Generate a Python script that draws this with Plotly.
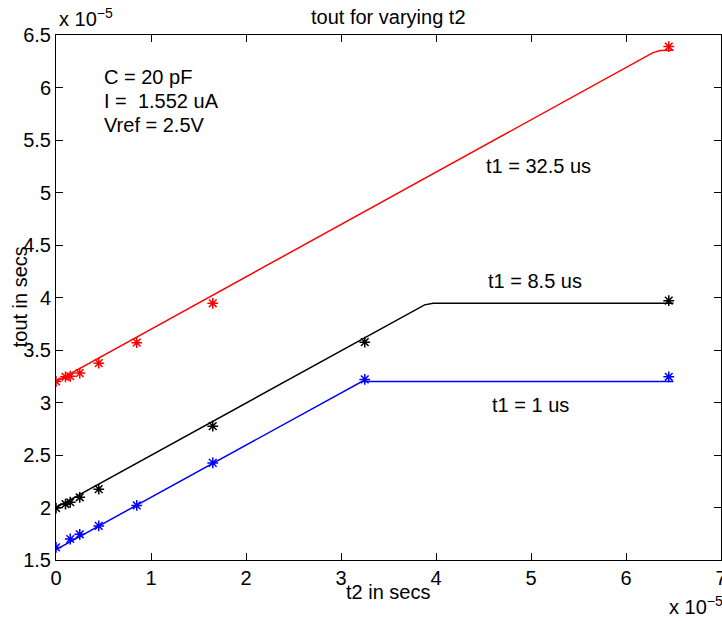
import plotly.graph_objects as go

# t2 sweep (units of 1e-5 s) and measured tout (units of 1e-5 s)
red_t2 = [0, 0.1, 0.15, 0.25, 0.45, 0.85, 1.65, 6.45]
red_tout = [3.20, 3.245, 3.25, 3.28, 3.375, 3.57, 3.945, 6.39]
black_t2 = [0, 0.1, 0.15, 0.25, 0.45, 1.65, 3.25, 6.45]
black_tout = [1.995, 2.033, 2.05, 2.097, 2.175, 2.775, 3.575, 3.97]
blue_t2 = [0, 0.15, 0.25, 0.45, 0.85, 1.65, 3.25, 6.45]
blue_tout = [1.62, 1.70, 1.745, 1.825, 2.02, 2.425, 3.22, 3.245]

# model curves: linear ramp, then saturation
red_model_t2 = [0, 6.28, 6.36, 6.5]
red_model_tout = [3.2, 6.33, 6.352, 6.355]
black_model_t2 = [0, 3.88, 3.97, 6.5]
black_model_tout = [2.0, 3.93, 3.945, 3.945]
blue_model_t2 = [0, 3.22, 6.5]
blue_model_tout = [1.6, 3.2, 3.2]

FONT = "Liberation Sans, Arial, Helvetica, sans-serif"
W, H = 722, 621
L, R, T, B = 55.7, 1.3, 35, 61
PW, PH = W - L - R, H - T - B


def px(x, y):
    """Pixel position in the page -> paper coordinates."""
    return (x - L) / PW, (H - B - y) / PH


fig = go.Figure()

for mx, my, dx, dy, col in [
    (red_model_t2, red_model_tout, red_t2, red_tout, "#ff0000"),
    (black_model_t2, black_model_tout, black_t2, black_tout, "#000000"),
    (blue_model_t2, blue_model_tout, blue_t2, blue_tout, "#0000ff"),
]:
    fig.add_trace(go.Scatter(x=mx, y=my, mode="lines",
                             line=dict(color=col, width=1.5), showlegend=False))
    fig.add_trace(go.Scatter(x=dx, y=dy, mode="markers", showlegend=False,
                             marker=dict(symbol="asterisk-open", size=9,
                                         color=col, line=dict(color=col, width=1.5))))

axis_common = dict(
    showline=True, linecolor="black", linewidth=1, mirror="allticks",
    ticks="inside", ticklen=7, tickcolor="black", showgrid=False, zeroline=False,
    tickfont=dict(family=FONT, size=20, color="black"),
    ticklabeloverflow="allow", automargin=False,
)
fig.update_xaxes(range=[0, 7], dtick=1, tick0=0, **axis_common)
fig.update_yaxes(range=[1.5, 6.5], dtick=0.5, tick0=1.5, **axis_common)

notes = [
    ("tout for varying t2", 388, 17, "center", 0, 20),
    ("C = 20 pF", 102, 77, "left", 0, 20),
    ("I =  1.552 uA", 102, 101, "left", 0, 20),
    ("Vref = 2.5V", 102, 125, "left", 0, 20),
    ("t1 = 32.5 us", 484, 166, "left", 0, 20),
    ("t1 = 8.5 us", 486, 281, "left", 0, 20),
    ("t1 = 1 us", 490, 405, "left", 0, 20),
    ("t2 in secs", 388, 592, "center", 0, 20),
    ("tout in secs", 20, 297, "center", -90, 20),
    ("x 10<sup>−5</sup>", 57, 17, "left", 0, 20),
    ("x 10<sup>−5</sup>", 667, 605, "left", 0, 20),
]
for text, x, y, anchor, ang, size in notes:
    xp, yp = px(x, y)
    fig.add_annotation(text=text, x=xp, y=yp, xref="paper", yref="paper",
                       xanchor=anchor, yanchor="middle", showarrow=False,
                       textangle=ang, font=dict(family=FONT, size=size, color="black"))

fig.update_layout(
    width=W, height=H, autosize=False,
    margin=dict(l=L, r=R, t=T, b=B, pad=0, autoexpand=False),
    paper_bgcolor="white", plot_bgcolor="white",
    font=dict(family=FONT, color="black"),
)

fig.write_html("out.html")
